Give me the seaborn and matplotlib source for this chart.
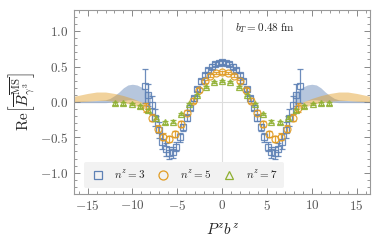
import numpy as np
import pandas as pd
import seaborn as sns
import matplotlib
matplotlib.use("Agg")
import matplotlib.pyplot as plt
from matplotlib.ticker import MultipleLocator, FuncFormatter

# ---- data ----
# n^z = 3 (blue squares)
x_n3 = [-8.64, -8.25, -7.85, -7.46, -7.07, -6.68, -6.28, -5.89, -5.50, -5.10, -4.71, -4.32,
        -3.93, -3.53, -3.14, -2.75, -2.36, -1.96, -1.57, -1.18, -0.79, -0.39, 0.0,
        0.39, 0.79, 1.18, 1.57, 1.96, 2.36, 2.75, 3.14, 3.53, 3.93, 4.32, 4.71,
        5.10, 5.50, 5.89, 6.28, 6.68, 7.07, 7.46, 7.85, 8.25, 8.64]
y_n3 = [0.22, 0.10, -0.04, -0.22, -0.40, -0.56, -0.67, -0.72, -0.71, -0.63, -0.50, -0.36,
        -0.22, -0.08, 0.05, 0.18, 0.29, 0.38, 0.45, 0.50, 0.535, 0.55, 0.56,
        0.55, 0.535, 0.50, 0.45, 0.38, 0.29, 0.18, 0.05, -0.08, -0.22, -0.36, -0.50,
        -0.63, -0.71, -0.72, -0.67, -0.56, -0.40, -0.22, -0.04, 0.10, 0.22]
e_n3 = [0.24, 0.16, 0.13, 0.12, 0.11, 0.10, 0.09, 0.09, 0.08, 0.07, 0.06, 0.05,
        0.05, 0.04, 0.04, 0.03, 0.03, 0.03, 0.03, 0.03, 0.03, 0.03, 0.03,
        0.03, 0.03, 0.03, 0.03, 0.03, 0.03, 0.03, 0.04, 0.04, 0.05, 0.05, 0.06,
        0.07, 0.08, 0.09, 0.09, 0.10, 0.11, 0.12, 0.13, 0.16, 0.24]

# n^z = 5 (orange circles)
x_n5 = [-8.51, -7.85, -7.20, -6.54, -5.89, -5.24, -4.58, -3.93, -3.27, -2.62, -1.96, -1.31, -0.65, 0.0,
        0.65, 1.31, 1.96, 2.62, 3.27, 3.93, 4.58, 5.24, 5.89, 6.54, 7.20, 7.85, 8.51]
y_n5 = [-0.08, -0.22, -0.38, -0.49, -0.52, -0.45, -0.31, -0.15, 0.02, 0.17, 0.29, 0.37, 0.41, 0.42,
        0.41, 0.37, 0.29, 0.17, 0.02, -0.15, -0.31, -0.45, -0.52, -0.49, -0.38, -0.22, -0.08]
e_n5 = [0.06, 0.05, 0.05, 0.05, 0.04, 0.04, 0.04, 0.03, 0.03, 0.03, 0.02, 0.02, 0.02, 0.02,
        0.02, 0.02, 0.02, 0.03, 0.03, 0.03, 0.04, 0.04, 0.04, 0.05, 0.05, 0.05, 0.06]

# n^z = 7 (green triangles)
x_n7 = [-11.91, -11.00, -10.08, -9.16, -8.25, -7.33, -6.41, -5.50, -4.58, -3.67, -2.75, -1.83, -0.92, 0.0,
        0.92, 1.83, 2.75, 3.67, 4.58, 5.50, 6.41, 7.33, 8.25, 9.16, 10.08, 11.00, 11.91]
y_n7 = [-0.02, -0.02, -0.03, -0.06, -0.12, -0.22, -0.29, -0.28, -0.17, -0.03, 0.10, 0.21, 0.28, 0.30,
        0.28, 0.21, 0.10, -0.03, -0.17, -0.28, -0.29, -0.22, -0.12, -0.06, -0.03, -0.02, -0.02]
e_n7 = [0.02, 0.02, 0.02, 0.02, 0.02, 0.02, 0.02, 0.02, 0.02, 0.02, 0.015, 0.015, 0.015, 0.015,
        0.015, 0.015, 0.015, 0.02, 0.02, 0.02, 0.02, 0.02, 0.02, 0.02, 0.02, 0.02, 0.02]

# extrapolation bands (|P^z b^z|, drawn on both sides)
xb_n3 = [8.0, 8.5, 9.0, 9.5, 10.0, 10.5, 11.0, 11.5, 12.0, 12.5, 13.0, 14.0, 15.0, 16.5]
lo_n3 = [-0.05, -0.02, 0.0, 0.02, 0.03, 0.03, 0.02, 0.01, 0.0, -0.005, -0.01, -0.01, -0.01, -0.01]
hi_n3 = [0.12, 0.17, 0.21, 0.24, 0.25, 0.24, 0.20, 0.14, 0.09, 0.05, 0.03, 0.02, 0.015, 0.01]

xb_n5 = [8.5, 9.0, 10.0, 11.0, 12.0, 13.0, 14.0, 15.0, 16.5]
lo_n5 = [-0.11, -0.08, -0.04, -0.01, 0.01, 0.02, 0.02, 0.01, 0.0]
hi_n5 = [-0.03, 0.0, 0.05, 0.09, 0.12, 0.14, 0.14, 0.12, 0.08]

bT_text = r"$b_T = 0.48\ \mathrm{fm}$"

blue = "#5e81b5"
orange = "#e19c24"
green = "#8fb032"

sns.set_theme(style="ticks")
plt.rcParams["font.family"] = ["DejaVu Serif"]
plt.rcParams["mathtext.fontset"] = "cm"

fig = plt.figure(figsize=(3.82, 2.43), dpi=100)
ax = fig.add_axes([0.194, 0.202, 0.775, 0.757])

ax.axhline(0, color="#dddddd", lw=0.8, zorder=0)
ax.axvline(0, color="#dddddd", lw=0.8, zorder=0)

# bands on both sides
for xb, lo, hi, c in [(xb_n3, lo_n3, hi_n3, blue), (xb_n5, lo_n5, hi_n5, orange)]:
    xb = np.array(xb)
    ax.fill_between(xb, lo, hi, color=c, alpha=0.45, lw=0, zorder=1)
    ax.fill_between(-xb, lo, hi, color=c, alpha=0.45, lw=0, zorder=1)

series = [
    (x_n3, y_n3, e_n3, blue, "s", 4.5, r"$n^z = 3$"),
    (x_n5, y_n5, e_n5, orange, "o", 5.0, r"$n^z = 5$"),
    (x_n7, y_n7, e_n7, green, "^", 4.5, r"$n^z = 7$"),
]
for xs, ys, es, c, m, ms, lab in series:
    df = pd.DataFrame({"x": xs, "y": ys, "e": es})
    ax.errorbar(df["x"], df["y"], yerr=df["e"], fmt=m, ms=ms, mfc="none", mec=c,
                mew=0.9, color=c, ecolor=c, elinewidth=0.9, capsize=2.2, capthick=0.9,
                alpha=0.9, zorder=3, label=lab)

leg_handles = [plt.Line2D([], [], ls="none", marker=m, ms=ms + 1.5, mfc="none", mec=c, mew=0.9)
               for _, _, _, c, m, ms, _ in series]
leg = ax.legend(handles=leg_handles, labels=[s[-1] for s in series], loc="lower left", ncol=3,
                bbox_to_anchor=(0.034, 0.033), borderaxespad=0, frameon=True, fontsize=8,
                handletextpad=0.9, columnspacing=1.0, borderpad=0.6, handlelength=1.2)
leg.get_frame().set_facecolor("#f2f2f2")
leg.get_frame().set_edgecolor("none")
leg.get_frame().set_alpha(1)

ax.text(4.8, 1.04, bT_text, ha="center", va="center", fontsize=8, color="#222222")

ax.set_xlim(-16.5, 16.5)
ax.set_ylim(-1.3, 1.3)
ax.xaxis.set_major_locator(MultipleLocator(5))
ax.xaxis.set_minor_locator(MultipleLocator(1))
ax.yaxis.set_major_locator(MultipleLocator(0.5))
ax.yaxis.set_minor_locator(MultipleLocator(0.1))
ax.xaxis.set_major_formatter(FuncFormatter(lambda v, p: r"$%d$" % round(v)))
ax.yaxis.set_major_formatter(FuncFormatter(lambda v, p: r"$%.1f$" % v))
ax.tick_params(which="both", direction="in", top=True, right=True, color="#888888",
               labelcolor="#555555", labelsize=9.5, pad=4)
ax.tick_params(which="major", length=4, width=0.7)
ax.tick_params(which="minor", length=2, width=0.6)
for s in ax.spines.values():
    s.set_color("#999999")
    s.set_linewidth(0.8)

ax.set_xlabel(r"$P^z b^z$", fontsize=11, color="#222222", labelpad=6)
ax.set_ylabel(r"$\mathrm{Re}\left[\overline{B}^{\overline{\mathrm{MS}}}_{\gamma^3}\right]$",
              fontsize=11, color="#222222", labelpad=2)

fig.savefig("out.png", dpi=100)
